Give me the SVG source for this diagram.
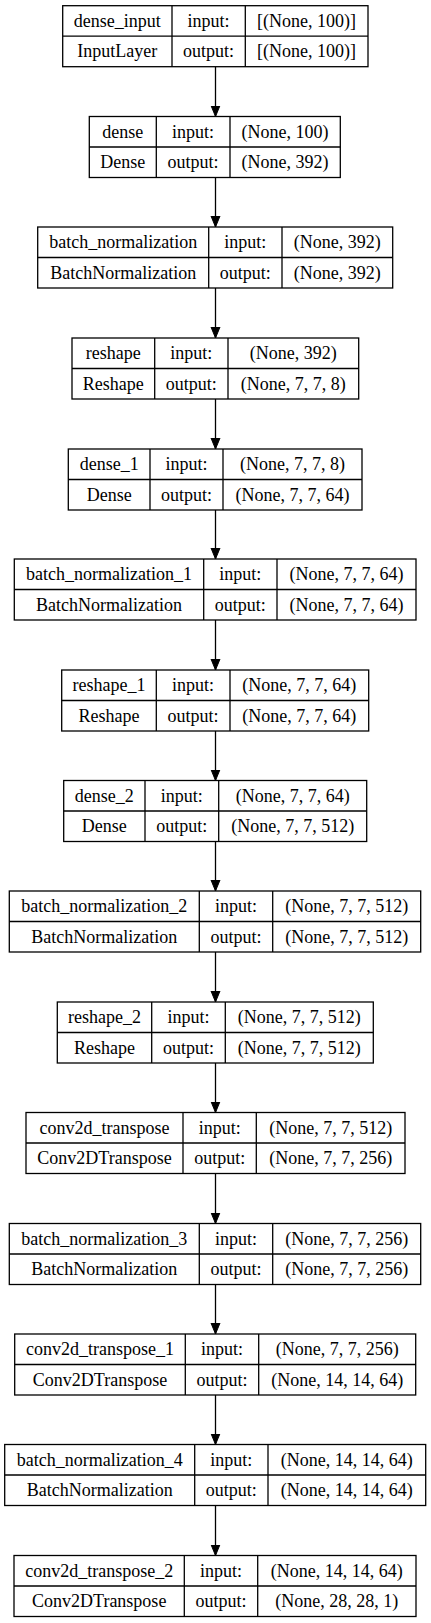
<svg xmlns="http://www.w3.org/2000/svg" width="431" height="1623" viewBox="0 0 431 1623">
<defs>
<style>
.b{fill:#fff;stroke:#000;stroke-width:1.3}
.l{stroke:#000;stroke-width:1.3;fill:none}
.t{font-family:'Liberation Serif','Times New Roman',Times,'DejaVu Serif',serif;font-size:18px;text-anchor:middle;fill:#000}
.e{stroke:#000;stroke-width:1.3;fill:none;marker-end:url(#ah)}
</style>
<marker id="ah" markerUnits="userSpaceOnUse" markerWidth="12" markerHeight="16" viewBox="0 0 12 16" refX="11" refY="6" orient="auto">
<path d="M0,1.5 L11,6 L0,10.5 Z" fill="#000" stroke="#000" stroke-width="1"/>
</marker>
</defs>
<rect width="431" height="1623" fill="#fff"/>
<g id="connectors">
<line class="e" x1="215.5" y1="66.5" x2="215.5" y2="116.5"/>
<line class="e" x1="215.5" y1="177.5" x2="215.5" y2="227"/>
<line class="e" x1="215.5" y1="288" x2="215.5" y2="338"/>
<line class="e" x1="215.5" y1="399" x2="215.5" y2="449"/>
<line class="e" x1="215.5" y1="510" x2="215.5" y2="559"/>
<line class="e" x1="215.5" y1="620" x2="215.5" y2="670"/>
<line class="e" x1="215.5" y1="731" x2="215.5" y2="780.5"/>
<line class="e" x1="215.5" y1="841.5" x2="215.5" y2="891"/>
<line class="e" x1="215.5" y1="952" x2="215.5" y2="1002"/>
<line class="e" x1="215.5" y1="1063" x2="215.5" y2="1112.5"/>
<line class="e" x1="215.5" y1="1173.5" x2="215.5" y2="1223.5"/>
<line class="e" x1="215.5" y1="1284.5" x2="215.5" y2="1334"/>
<line class="e" x1="215.5" y1="1395" x2="215.5" y2="1444.5"/>
<line class="e" x1="215.5" y1="1505.5" x2="215.5" y2="1555.5"/>
</g>
<g class="t" font-family="Liberation Serif, serif">
<g id="n0" transform="translate(0,5.7)">
<rect class="b" x="62.7" y="0" width="305.3" height="61"/>
<line class="l" x1="62.7" y1="30.5" x2="368" y2="30.5"/><line class="l" x1="172" y1="0" x2="172" y2="61"/><line class="l" x1="245.3" y1="0" x2="245.3" y2="61"/>
<text x="117.3" y="21">dense_input</text><text x="208.6" y="21">input:</text><text x="306.6" y="21">[(None, 100)]</text>
<text x="117.3" y="51.5">InputLayer</text><text x="208.6" y="51.5">output:</text><text x="306.6" y="51.5">[(None, 100)]</text>
</g>
<g id="n1" transform="translate(0,116.5)">
<rect class="b" x="89.3" y="0" width="251" height="61"/>
<line class="l" x1="89.3" y1="30.5" x2="340.3" y2="30.5"/><line class="l" x1="156.3" y1="0" x2="156.3" y2="61"/><line class="l" x1="230" y1="0" x2="230" y2="61"/>
<text x="122.8" y="21">dense</text><text x="193.1" y="21">input:</text><text x="285.1" y="21">(None, 100)</text>
<text x="122.8" y="51.5">Dense</text><text x="193.1" y="51.5">output:</text><text x="285.1" y="51.5">(None, 392)</text>
</g>
<g id="n2" transform="translate(0,227)">
<rect class="b" x="37.7" y="0" width="355" height="61"/>
<line class="l" x1="37.7" y1="30.5" x2="392.7" y2="30.5"/><line class="l" x1="208.7" y1="0" x2="208.7" y2="61"/><line class="l" x1="282" y1="0" x2="282" y2="61"/>
<text x="123.2" y="21">batch_normalization</text><text x="245.3" y="21">input:</text><text x="337.3" y="21">(None, 392)</text>
<text x="123.2" y="51.5">BatchNormalization</text><text x="245.3" y="51.5">output:</text><text x="337.3" y="51.5">(None, 392)</text>
</g>
<g id="n3" transform="translate(0,338)">
<rect class="b" x="72" y="0" width="286.7" height="61"/>
<line class="l" x1="72" y1="30.5" x2="358.7" y2="30.5"/><line class="l" x1="154.7" y1="0" x2="154.7" y2="61"/><line class="l" x1="228" y1="0" x2="228" y2="61"/>
<text x="113.3" y="21">reshape</text><text x="191.3" y="21">input:</text><text x="293.3" y="21">(None, 392)</text>
<text x="113.3" y="51.5">Reshape</text><text x="191.3" y="51.5">output:</text><text x="293.3" y="51.5">(None, 7, 7, 8)</text>
</g>
<g id="n4" transform="translate(0,449)">
<rect class="b" x="68.3" y="0" width="293.7" height="61"/>
<line class="l" x1="68.3" y1="30.5" x2="362" y2="30.5"/><line class="l" x1="150" y1="0" x2="150" y2="61"/><line class="l" x1="223" y1="0" x2="223" y2="61"/>
<text x="109.2" y="21">dense_1</text><text x="186.5" y="21">input:</text><text x="292.5" y="21">(None, 7, 7, 8)</text>
<text x="109.2" y="51.5">Dense</text><text x="186.5" y="51.5">output:</text><text x="292.5" y="51.5">(None, 7, 7, 64)</text>
</g>
<g id="n5" transform="translate(0,559)">
<rect class="b" x="14.3" y="0" width="401.7" height="61"/>
<line class="l" x1="14.3" y1="30.5" x2="416" y2="30.5"/><line class="l" x1="203.7" y1="0" x2="203.7" y2="61"/><line class="l" x1="277" y1="0" x2="277" y2="61"/>
<text x="109" y="21">batch_normalization_1</text><text x="240.3" y="21">input:</text><text x="346.5" y="21">(None, 7, 7, 64)</text>
<text x="109" y="51.5">BatchNormalization</text><text x="240.3" y="51.5">output:</text><text x="346.5" y="51.5">(None, 7, 7, 64)</text>
</g>
<g id="n6" transform="translate(0,670)">
<rect class="b" x="61.7" y="0" width="307" height="61"/>
<line class="l" x1="61.7" y1="30.5" x2="368.7" y2="30.5"/><line class="l" x1="156.3" y1="0" x2="156.3" y2="61"/><line class="l" x1="230" y1="0" x2="230" y2="61"/>
<text x="109" y="21">reshape_1</text><text x="193.1" y="21">input:</text><text x="299.3" y="21">(None, 7, 7, 64)</text>
<text x="109" y="51.5">Reshape</text><text x="193.1" y="51.5">output:</text><text x="299.3" y="51.5">(None, 7, 7, 64)</text>
</g>
<g id="n7" transform="translate(0,780.5)">
<rect class="b" x="63.7" y="0" width="303" height="61"/>
<line class="l" x1="63.7" y1="30.5" x2="366.7" y2="30.5"/><line class="l" x1="145" y1="0" x2="145" y2="61"/><line class="l" x1="218.7" y1="0" x2="218.7" y2="61"/>
<text x="104.3" y="21">dense_2</text><text x="181.8" y="21">input:</text><text x="292.7" y="21">(None, 7, 7, 64)</text>
<text x="104.3" y="51.5">Dense</text><text x="181.8" y="51.5">output:</text><text x="292.7" y="51.5">(None, 7, 7, 512)</text>
</g>
<g id="n8" transform="translate(0,891)">
<rect class="b" x="9.3" y="0" width="411.4" height="61"/>
<line class="l" x1="9.3" y1="30.5" x2="420.7" y2="30.5"/><line class="l" x1="199.3" y1="0" x2="199.3" y2="61"/><line class="l" x1="272.7" y1="0" x2="272.7" y2="61"/>
<text x="104.3" y="21">batch_normalization_2</text><text x="236" y="21">input:</text><text x="346.7" y="21">(None, 7, 7, 512)</text>
<text x="104.3" y="51.5">BatchNormalization</text><text x="236" y="51.5">output:</text><text x="346.7" y="51.5">(None, 7, 7, 512)</text>
</g>
<g id="n9" transform="translate(0,1002)">
<rect class="b" x="57.3" y="0" width="316" height="61"/>
<line class="l" x1="57.3" y1="30.5" x2="373.3" y2="30.5"/><line class="l" x1="151.7" y1="0" x2="151.7" y2="61"/><line class="l" x1="225.3" y1="0" x2="225.3" y2="61"/>
<text x="104.5" y="21">reshape_2</text><text x="188.5" y="21">input:</text><text x="299.3" y="21">(None, 7, 7, 512)</text>
<text x="104.5" y="51.5">Reshape</text><text x="188.5" y="51.5">output:</text><text x="299.3" y="51.5">(None, 7, 7, 512)</text>
</g>
<g id="n10" transform="translate(0,1112.5)">
<rect class="b" x="26" y="0" width="379" height="61"/>
<line class="l" x1="26" y1="30.5" x2="405" y2="30.5"/><line class="l" x1="183" y1="0" x2="183" y2="61"/><line class="l" x1="256.3" y1="0" x2="256.3" y2="61"/>
<text x="104.5" y="21">conv2d_transpose</text><text x="219.7" y="21">input:</text><text x="330.7" y="21">(None, 7, 7, 512)</text>
<text x="104.5" y="51.5">Conv2DTranspose</text><text x="219.7" y="51.5">output:</text><text x="330.7" y="51.5">(None, 7, 7, 256)</text>
</g>
<g id="n11" transform="translate(0,1223.5)">
<rect class="b" x="9.3" y="0" width="411.4" height="61"/>
<line class="l" x1="9.3" y1="30.5" x2="420.7" y2="30.5"/><line class="l" x1="199.3" y1="0" x2="199.3" y2="61"/><line class="l" x1="272.7" y1="0" x2="272.7" y2="61"/>
<text x="104.3" y="21">batch_normalization_3</text><text x="236" y="21">input:</text><text x="346.7" y="21">(None, 7, 7, 256)</text>
<text x="104.3" y="51.5">BatchNormalization</text><text x="236" y="51.5">output:</text><text x="346.7" y="51.5">(None, 7, 7, 256)</text>
</g>
<g id="n12" transform="translate(0,1334)">
<rect class="b" x="14.7" y="0" width="401" height="61"/>
<line class="l" x1="14.7" y1="30.5" x2="415.7" y2="30.5"/><line class="l" x1="185.3" y1="0" x2="185.3" y2="61"/><line class="l" x1="258.7" y1="0" x2="258.7" y2="61"/>
<text x="100" y="21">conv2d_transpose_1</text><text x="222" y="21">input:</text><text x="337.2" y="21">(None, 7, 7, 256)</text>
<text x="100" y="51.5">Conv2DTranspose</text><text x="222" y="51.5">output:</text><text x="337.2" y="51.5">(None, 14, 14, 64)</text>
</g>
<g id="n13" transform="translate(0,1444.5)">
<rect class="b" x="4.7" y="0" width="421" height="61"/>
<line class="l" x1="4.7" y1="30.5" x2="425.7" y2="30.5"/><line class="l" x1="194.7" y1="0" x2="194.7" y2="61"/><line class="l" x1="268" y1="0" x2="268" y2="61"/>
<text x="99.7" y="21">batch_normalization_4</text><text x="231.3" y="21">input:</text><text x="346.8" y="21">(None, 14, 14, 64)</text>
<text x="99.7" y="51.5">BatchNormalization</text><text x="231.3" y="51.5">output:</text><text x="346.8" y="51.5">(None, 14, 14, 64)</text>
</g>
<g id="n14" transform="translate(0,1555.5)">
<rect class="b" x="14" y="0" width="402" height="61"/>
<line class="l" x1="14" y1="30.5" x2="416" y2="30.5"/><line class="l" x1="184.3" y1="0" x2="184.3" y2="61"/><line class="l" x1="257.7" y1="0" x2="257.7" y2="61"/>
<text x="99.2" y="21">conv2d_transpose_2</text><text x="221" y="21">input:</text><text x="336.8" y="21">(None, 14, 14, 64)</text>
<text x="99.2" y="51.5">Conv2DTranspose</text><text x="221" y="51.5">output:</text><text x="336.8" y="51.5">(None, 28, 28, 1)</text>
</g>
</g>
</svg>
